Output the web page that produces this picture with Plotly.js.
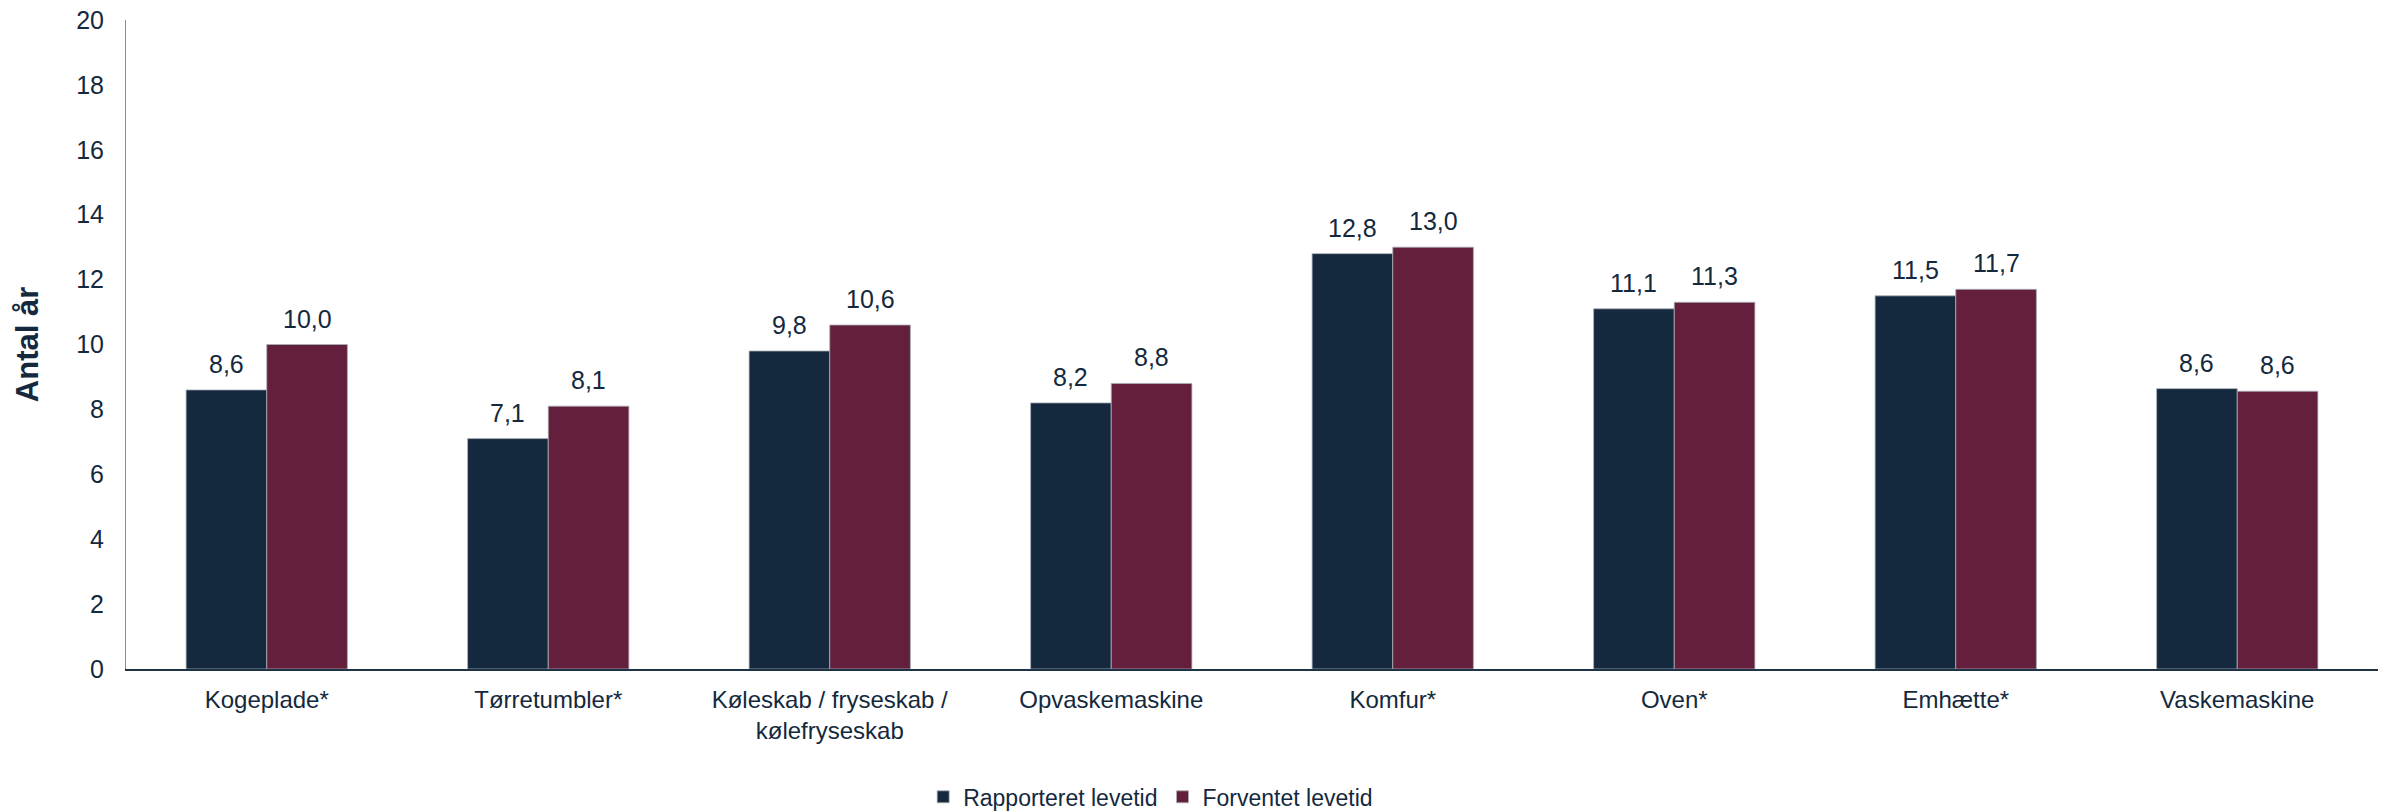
<!DOCTYPE html>
<html>
<head>
<meta charset="utf-8">
<script src="https://cdn.plot.ly/plotly-3.0.1.min.js"></script>
<style>html,body{margin:0;padding:0;background:#fff;}#chart{width:2387px;height:812px;}</style>
</head>
<body>
<div id="chart"></div>
<script>
const categories = ["Kogeplade*", "Tørretumbler*", "Køleskab / fryseskab /<br>kølefryseskab", "Opvaskemaskine", "Komfur*", "Oven*", "Emhætte*", "Vaskemaskine"];
const rapporteret = [8.6, 7.1, 9.8, 8.2, 12.8, 11.1, 11.5, 8.64];
const forventet = [10.0, 8.1, 10.6, 8.8, 13.0, 11.3, 11.7, 8.56];
const seriesNames = ["Rapporteret levetid", "Forventet levetid"];
const yTicks = [0, 2, 4, 6, 8, 10, 12, 14, 16, 18, 20];

const textColor = "#14293d";
const fontFam = "'Liberation Sans', Arial, sans-serif";

const W = 2387, H = 812;
const margin = {l: 126, r: 9, t: 20, b: 143, autoexpand: false};
const bargap = 0.427;
const plotW = W - margin.l - margin.r;
const barPx = plotW / categories.length * (1 - bargap) / 2;

const fmt = v => v.toFixed(1).replace(".", ",");

const traces = [
  {type: "bar", name: seriesNames[0], x: categories, y: rapporteret, hoverinfo: "skip",
   marker: {color: "#14293d", line: {color: "rgba(170,175,185,0.8)", width: 1}}},
  {type: "bar", name: seriesNames[1], x: categories, y: forventet, hoverinfo: "skip",
   marker: {color: "#631f3c", line: {color: "rgba(170,175,185,0.8)", width: 1}}}
];

const annotations = [];
[rapporteret, forventet].forEach((series, si) => {
  series.forEach((v, i) => {
    annotations.push({
      x: categories[i], y: v, xref: "x", yref: "y",
      text: fmt(v), showarrow: false,
      xanchor: "center", yanchor: "middle",
      xshift: (si === 0 ? -1 : 1) * barPx / 2, yshift: 26,
      font: {family: fontFam, size: 25, color: textColor}
    });
  });
});

const layout = {
  width: W, height: H,
  margin: margin,
  paper_bgcolor: "#fff", plot_bgcolor: "#fff",
  separators: ",.",
  barmode: "group", bargap: bargap, bargroupgap: 0,
  font: {family: fontFam, size: 24, color: textColor},
  annotations: annotations,
  xaxis: {
    type: "category",
    showline: true, linecolor: "#1f3347", linewidth: 2,
    ticks: "", showgrid: false, zeroline: false,
    tickfont: {family: fontFam, size: 24, color: textColor},
    ticklabelstandoff: 8,
    automargin: false
  },
  yaxis: {
    range: [0, 20], tickvals: yTicks, ticktext: yTicks.map(String),
    showline: true, linecolor: "#8c8c8c", linewidth: 1,
    ticks: "", showgrid: false, zeroline: false,
    tickfont: {family: fontFam, size: 25, color: textColor},
    ticklabelstandoff: 16,
    title: {text: "Antal år", font: {family: fontFam, size: 31, color: textColor, weight: "bold"}, standoff: 28},
    automargin: false
  },
  showlegend: true,
  legend: {
    orientation: "h", x: 0.455, xanchor: "center", y: -0.197, yanchor: "middle",
    font: {family: fontFam, size: 23, color: textColor},
    itemclick: false
  }
};

Plotly.newPlot("chart", traces, layout, {staticPlot: true});
</script>
</body>
</html>
